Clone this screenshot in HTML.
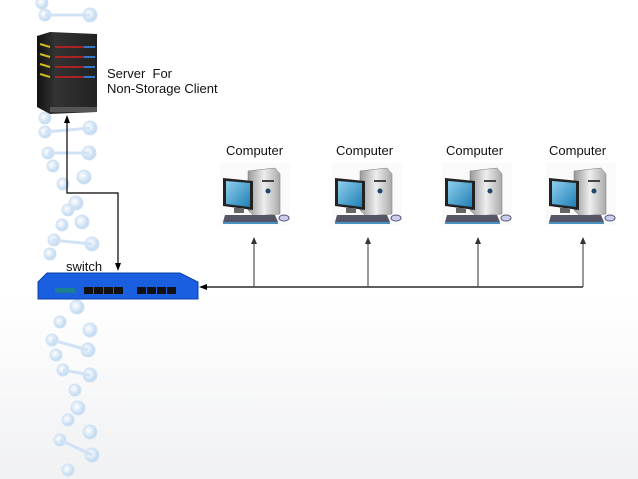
<!DOCTYPE html><html><head><style>
body{margin:0;width:638px;height:479px;overflow:hidden;background:linear-gradient(#fff 0%,#fff 62%,#f0f1f3 100%);font-family:"Liberation Sans",sans-serif;position:relative}
.t{position:absolute;font-size:13px;color:#111}
</style></head><body>
<svg width="638" height="479" style="position:absolute;left:0;top:0">
<defs>
<radialGradient id="b" cx="40%" cy="40%"><stop offset="0" stop-color="#fff"/><stop offset="1" stop-color="#c6dcf2"/></radialGradient>
<linearGradient id="srv" x1="0" x2="1"><stop offset="0" stop-color="#111"/><stop offset="0.3" stop-color="#333"/><stop offset="1" stop-color="#222"/></linearGradient>
<linearGradient id="scr" x1="0" y1="0" x2="1" y2="1"><stop offset="0" stop-color="#8fd0ee"/><stop offset="1" stop-color="#1f7fb5"/></linearGradient>
<linearGradient id="tw" x1="0" x2="1"><stop offset="0" stop-color="#999"/><stop offset="0.5" stop-color="#eee"/><stop offset="1" stop-color="#aaa"/></linearGradient>
<g id="pc">
<rect x="0" y="-3" width="70" height="62" fill="#fafafa"/>
<polygon points="28,5 55,2 60,8 60,48 34,50 28,44" fill="url(#tw)" stroke="#777" stroke-width=".5"/>
<rect x="42" y="14" width="12" height="2" fill="#444"/><circle cx="48" cy="25" r="2.5" fill="#246"/>
<polygon points="3,12 33,15 33,44 3,40" fill="#222"/>
<polygon points="6,15 30,17 30,41 6,38" fill="url(#scr)"/>
<rect x="14" y="42" width="10" height="5" fill="#666"/>
<polygon points="5,49 55,49 58,56 3,56" fill="#556" /><rect x="3" y="56" width="55" height="2" fill="#4a90c0"/>
<ellipse cx="64" cy="52" rx="5" ry="3" fill="#cce" stroke="#557"/>
</g>
</defs>
<g fill="url(#b)" stroke="#d0e2f4" stroke-width="1">
<circle cx="42" cy="3" r="6"/><circle cx="90" cy="15" r="7"/><circle cx="45" cy="15" r="6"/>
<circle cx="45" cy="118" r="6"/><circle cx="90" cy="128" r="7"/><circle cx="45" cy="132" r="6"/><circle cx="89" cy="153" r="7"/><circle cx="48" cy="153" r="6"/><circle cx="53" cy="166" r="6"/><circle cx="84" cy="177" r="7"/><circle cx="63" cy="184" r="6"/>
<circle cx="76" cy="203" r="7"/><circle cx="68" cy="210" r="6"/><circle cx="82" cy="222" r="7"/><circle cx="62" cy="225" r="6"/><circle cx="54" cy="240" r="6"/><circle cx="92" cy="244" r="7"/><circle cx="50" cy="254" r="6"/>
<circle cx="77" cy="307" r="7"/><circle cx="60" cy="322" r="6"/><circle cx="90" cy="330" r="7"/><circle cx="52" cy="340" r="6"/><circle cx="88" cy="350" r="7"/><circle cx="56" cy="355" r="6"/><circle cx="63" cy="370" r="6"/><circle cx="90" cy="375" r="7"/><circle cx="75" cy="390" r="6"/><circle cx="78" cy="408" r="7"/><circle cx="68" cy="420" r="6"/><circle cx="90" cy="432" r="7"/><circle cx="60" cy="440" r="6"/><circle cx="92" cy="455" r="7"/><circle cx="68" cy="470" r="6"/>
</g>
<g stroke="#d0e2f4" stroke-width="3"><line x1="45" y1="15" x2="90" y2="15"/><line x1="45" y1="132" x2="90" y2="128"/><line x1="48" y1="153" x2="89" y2="153"/><line x1="52" y1="240" x2="92" y2="244"/><line x1="52" y1="340" x2="88" y2="350"/><line x1="63" y1="370" x2="90" y2="375"/><line x1="60" y1="440" x2="92" y2="455"/></g>
<!-- server -->
<polygon points="37,36 50,32 97,34 97,112 50,114 37,107" fill="url(#srv)"/>
<g stroke-width="2"><line x1="55" y1="47" x2="95" y2="47" stroke="#a22"/><line x1="55" y1="57" x2="95" y2="57" stroke="#a22"/><line x1="55" y1="67" x2="95" y2="67" stroke="#a22"/><line x1="55" y1="77" x2="95" y2="77" stroke="#a22"/>
<line x1="84" y1="47" x2="95" y2="47" stroke="#37c"/><line x1="84" y1="57" x2="95" y2="57" stroke="#37c"/><line x1="84" y1="67" x2="95" y2="67" stroke="#37c"/><line x1="84" y1="77" x2="95" y2="77" stroke="#37c"/>
<line x1="40" y1="44" x2="50" y2="47" stroke="#cb2"/><line x1="40" y1="54" x2="50" y2="57" stroke="#cb2"/><line x1="40" y1="64" x2="50" y2="67" stroke="#cb2"/><line x1="40" y1="74" x2="50" y2="77" stroke="#cb2"/></g>
<rect x="50" y="107" width="47" height="5" fill="#555"/>
<!-- connectors -->
<g stroke="#000" stroke-width="1.2" fill="none"><polyline points="67,122 67,193 118,193 118,265"/><line x1="205" y1="287" x2="583" y2="287"/></g>
<polygon points="67,115 64,123 70,123"/><polygon points="118,271 115,263 121,263"/><polygon points="199,287 207,284 207,290"/>
<g stroke="#555" stroke-width="1.2"><line x1="254" y1="287" x2="254" y2="243"/><line x1="368" y1="287" x2="368" y2="243"/><line x1="478" y1="287" x2="478" y2="243"/><line x1="583" y1="287" x2="583" y2="243"/></g>
<g fill="#333"><polygon points="254,237 251,244 257,244"/><polygon points="368,237 365,244 371,244"/><polygon points="478,237 475,244 481,244"/><polygon points="583,237 580,244 586,244"/></g>
<!-- switch -->
<polygon points="47,273 180,273 198,282 198,299 38,299 38,282" fill="#1a5fe0" stroke="#0d3fa8"/>
<rect x="55" y="288" width="20" height="5" fill="#1a8090"/>
<g fill="#111"><rect x="84" y="287" width="9" height="7"/><rect x="94" y="287" width="9" height="7"/><rect x="104" y="287" width="9" height="7"/><rect x="114" y="287" width="9" height="7"/>
<rect x="137" y="287" width="9" height="7"/><rect x="147" y="287" width="9" height="7"/><rect x="157" y="287" width="9" height="7"/><rect x="167" y="287" width="9" height="7"/></g>
<use href="#pc" x="220" y="166"/><use href="#pc" x="332" y="166"/><use href="#pc" x="442" y="166"/><use href="#pc" x="546" y="166"/>
</svg>
<div class="t" style="left:107px;top:66px;line-height:15px">Server &nbsp;For<br>Non-Storage Client</div>
<div class="t" style="left:226px;top:143px">Computer</div>
<div class="t" style="left:336px;top:143px">Computer</div>
<div class="t" style="left:446px;top:143px">Computer</div>
<div class="t" style="left:549px;top:143px">Computer</div>
<div class="t" style="left:66px;top:259px">switch</div>
</body></html>
